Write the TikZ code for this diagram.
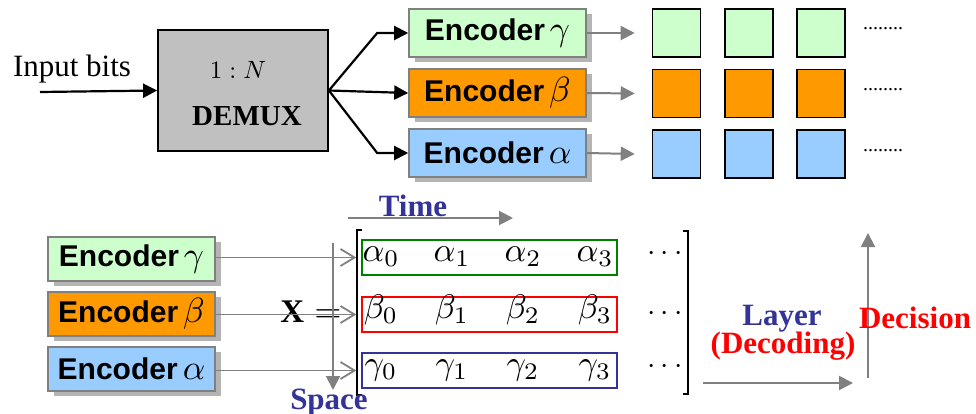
\documentclass[tikz,border=0pt]{standalone}
\usepackage{graphicx}
\usepackage[no-math]{fontspec}
\setmainfont{Liberation Serif}
\newfontfamily\encfont{Liberation Sans}
\usetikzlibrary{arrows.meta,shadows}

\newcommand{\setfs}[1]{\fontsize{#1}{#1}\selectfont}
% math set at its 10pt design size and then magnified
\newcommand{\mathscaled}[2]{\scalebox{#1}{\fontsize{10}{12}\selectfont$#2$}}

\definecolor{encgreen}{HTML}{CCFFCC}
\definecolor{encorange}{HTML}{FF9900}
\definecolor{encblue}{HTML}{99CCFF}
\definecolor{encborder}{HTML}{808080}
\definecolor{shadowgray}{HTML}{B4B4B4}
\definecolor{demuxgray}{HTML}{C0C0C0}
\definecolor{arrowgray}{HTML}{808080}
\definecolor{axisblue}{HTML}{333399}
\definecolor{rowgreen}{HTML}{008000}
\definecolor{rowred}{HTML}{FF0000}

\begin{document}
\begin{tikzpicture}[x=1pt,y=-1pt,
  encbox/.style={draw=encborder, line width=1.6pt, inner sep=0pt,
    font=\encfont\bfseries\setfs{30},
    drop shadow={shadow xshift=6pt, shadow yshift=-5pt, fill=shadowgray, opacity=1}},
  topenc/.style={encbox, minimum width=177pt, minimum height=48pt},
  lowenc/.style={encbox, minimum width=167pt, minimum height=44pt},
  cell/.style={draw=black, line width=1.6pt, minimum width=48pt, minimum height=48pt, inner sep=0pt},
  rowbox/.style={draw, line width=1.5pt, minimum width=255pt, minimum height=35pt, inner sep=0pt},
  entry/.style={anchor=base, inner sep=0pt},
  blackarrow/.style={draw=black, line width=2.2pt, -{Triangle[length=14pt,width=14pt]}},
  grayarrow/.style={draw=arrowgray, line width=2pt, -{Triangle[length=14pt,width=14pt]}},
  openarrow/.style={draw=arrowgray, line width=1.8pt, -{Straight Barb[length=14pt,width=17pt]}},
  axislabel/.style={anchor=base, inner sep=0pt, font=\bfseries\setfs{31}},
  trail/.style={inner sep=0pt, font=\setfs{20}}
]
\useasboundingbox (0,0) rectangle (976,414);

% ---------- demultiplexer stage ----------
\node[anchor=base, inner sep=0pt, font=\setfs{31}] (inp) at (72,77) {Input bits};
\coordinate (inpstart) at (40,92);
\node[draw=black, line width=1.8pt, fill=demuxgray, minimum width=170pt, minimum height=121pt, inner sep=0pt]
  (demux) at (243,90.5) {};
\node[inner sep=0pt] (ratio) at (238,70) {\mathscaled{2.5}{1:N}};
\node[inner sep=0pt, font=\bfseries\setfs{29}] (demuxlabel) at (247,116) {DEMUX};
\draw[blackarrow] (inpstart) -- (demux.west);

\node[topenc, fill=encgreen]  (encG) at (497.5,33)  {Encoder\,\mathscaled{3.5}{\gamma}};
\node[topenc, fill=encorange] (encB) at (497.5,93)  {Encoder\,\mathscaled{3.5}{\beta}};
\node[topenc, fill=encblue]   (encA) at (497.5,153) {Encoder\,\mathscaled{3.5}{\alpha}};

\draw[blackarrow] (demux.east) -- ([xshift=-31pt]encG.west) -- (encG.west);
\draw[blackarrow] (demux.east) -- (encB.west);
\draw[blackarrow] (demux.east) -- ([xshift=-31pt]encA.west) -- (encA.west);

% ---------- coded symbol streams ----------
\foreach \r/\y/\c in {G/33/encgreen, B/93.5/encorange, A/154/encblue}{
  \node[cell, fill=\c] (sq\r1) at (676.5,\y) {};
  \node[cell, fill=\c] (sq\r2) at (749,\y) {};
  \node[cell, fill=\c] (sq\r3) at (821,\y) {};
}
\node[trail] (dotsG) at (883,29) {........};
\node[trail] (dotsB) at (883,90) {........};
\node[trail] (dotsA) at (883,151) {........};

\draw[grayarrow] (encG.east) -- ([xshift=-17pt]sqG1.west);
\draw[grayarrow] (encB.east) -- ([xshift=-17pt]sqB1.west);
\draw[grayarrow] (encA.east) -- ([xshift=-17pt]sqA1.west);

% ---------- space-time matrix ----------
\node[lowenc, fill=encgreen]  (encGb) at (131.5,259) {Encoder\,\mathscaled{3.5}{\gamma}};
\node[lowenc, fill=encorange] (encBb) at (131.5,314) {Encoder\,\mathscaled{3.5}{\beta}};
\node[lowenc, fill=encblue]   (encAb) at (131.5,369) {Encoder\,\mathscaled{3.5}{\alpha}};

\node[anchor=base, inner sep=0pt, font=\bfseries\setfs{33}] (xeq) at (311,322) {X\hspace{10pt}\mathscaled{3.5}{=}};

\node[rowbox, draw=rowgreen] (rowA) at (489.5,257.5) {};
\node[rowbox, draw=rowred]   (rowB) at (489.5,314.5) {};
\node[rowbox, draw=axisblue] (rowC) at (489.5,370.5) {};

\node[entry] (a0) at (381,261.5) {\mathscaled{3.4}{\alpha_0}};
\node[entry] (a1) at (452,261.5) {\mathscaled{3.4}{\alpha_1}};
\node[entry] (a2) at (523,261.5) {\mathscaled{3.4}{\alpha_2}};
\node[entry] (a3) at (595,261.5) {\mathscaled{3.4}{\alpha_3}};
\node[entry] (b0) at (381,318.5) {\mathscaled{3.4}{\beta_0}};
\node[entry] (b1) at (452,318.5) {\mathscaled{3.4}{\beta_1}};
\node[entry] (b2) at (523,318.5) {\mathscaled{3.4}{\beta_2}};
\node[entry] (b3) at (595,318.5) {\mathscaled{3.4}{\beta_3}};
\node[entry] (c0) at (381,374.5) {\mathscaled{3.4}{\gamma_0}};
\node[entry] (c1) at (452,374.5) {\mathscaled{3.4}{\gamma_1}};
\node[entry] (c2) at (523,374.5) {\mathscaled{3.4}{\gamma_2}};
\node[entry] (c3) at (595,374.5) {\mathscaled{3.4}{\gamma_3}};
\node[entry] (dA) at (665,260.5) {\mathscaled{3}{\cdots}};
\node[entry] (dB) at (665,320.5) {\mathscaled{3}{\cdots}};
\node[entry] (dC) at (665,373.5) {\mathscaled{3}{\cdots}};

% matrix brackets
\draw[line width=1.2pt] (362,230) -- (357,230) -- (357,395) -- (362,395);
\draw[line width=1.2pt] (683,231) -- (688,231) -- (688,394) -- (683,394);

\draw[openarrow] (encGb.east |- rowA.west) -- ([xshift=-5pt]rowA.west);
\draw[openarrow] (encBb.east |- rowB.west) -- ([xshift=-5pt]rowB.west);
\draw[openarrow] (encAb.east |- rowC.west) -- ([xshift=-5pt]rowC.west);

% axes
\coordinate (timestart) at (348,218);
\coordinate (timeend) at (513,218);
\draw[grayarrow] (timestart) -- (timeend);
\node[axislabel, text=axisblue] (time) at (413,216.5) {Time};

\coordinate (spacestart) at (333,243);
\coordinate (spaceend) at (333,390);
\draw[grayarrow] (spacestart) -- (spaceend);
\node[axislabel, text=axisblue] (space) at (329,409) {Space};

\coordinate (layerstart) at (703,383);
\coordinate (layerend) at (853,383);
\draw[grayarrow] (layerstart) -- (layerend);
\node[axislabel, text=axisblue] (layer) at (782,325) {Layer};
\node[axislabel, text=rowred] (decoding) at (783,353) {(Decoding)};

\coordinate (decstart) at (868,378);
\coordinate (decend) at (868,233);
\draw[grayarrow] (decstart) -- (decend);
\node[axislabel, text=rowred] (decision) at (915,328) {Decision};
\end{tikzpicture}
\end{document}
